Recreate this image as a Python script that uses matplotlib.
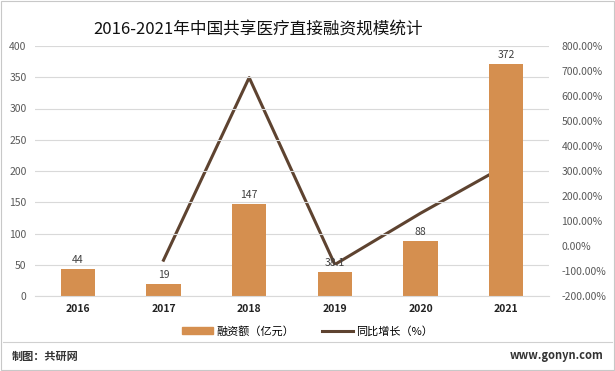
import matplotlib.pyplot as plt
import matplotlib.ticker as mtick
from matplotlib.patches import Rectangle

plt.rcParams['font.family'] = ['Noto Sans CJK SC', 'DejaVu Sans']

# --- data ---
tahun = ['2016', '2017', '2018', '2019', '2020', '2021']
rongzi = [44, 19, 147, 38.1, 88, 372]
label_bar = ['44', '19', '147', '38.1', '88', '372']
# growth (%) starts from 2017
tahun_growth = ['2017', '2018', '2019', '2020', '2021']
growth = [-56.8, 673.7, -74.1, 131.0, 322.7]

warna_bar = '#D58F4F'
warna_line = '#5E4330'

fig = plt.figure(figsize=(6.15, 3.71), dpi=100)
ax = fig.add_axes([35 / 615, 1 - 296 / 371, 514 / 615, 250 / 371])

x = list(range(len(tahun)))
ax.bar(x, rongzi, width=0.4, color=warna_bar, zorder=2)
for xi, v, lb in zip(x, rongzi, label_bar):
    ax.text(xi, v + 6, lb, ha='center', va='bottom', fontsize=7.5, color='#404040', zorder=5)

ax.set_ylim(0, 400)
ax.set_yticks(range(0, 401, 50))
ax.set_xlim(-0.5, 5.5)
ax.set_xticks(x)
ax.set_xticklabels(tahun, fontsize=7.5, fontweight='bold', color='#222222')
ax.grid(axis='y', color='#d9d9d9', linewidth=0.8, zorder=0)
ax.tick_params(axis='y', length=0, labelsize=7.5, labelcolor='#595959', pad=6)
ax.tick_params(axis='x', length=0, pad=6)
for s in ax.spines.values():
    s.set_visible(False)
ax.spines['bottom'].set_visible(True)
ax.spines['bottom'].set_color('#d9d9d9')

ax2 = ax.twinx()
xg = [tahun.index(t) for t in tahun_growth]
ax2.plot(xg, growth, color=warna_line, linewidth=2.2, zorder=3)
ax2.set_ylim(-200, 800)
ax2.set_yticks(range(-200, 801, 100))
ax2.yaxis.set_major_formatter(mtick.FuncFormatter(lambda v, p: f'{v:.2f}%'))
ax2.tick_params(axis='y', length=0, labelsize=7.5, labelcolor='#595959', pad=9)
for s in ax2.spines.values():
    s.set_visible(False)
ax.set_zorder(ax2.get_zorder() + 1)
ax.patch.set_visible(False)

# title
fig.text(0.42, 1 - 30 / 371, '2016-2021年中国共享医疗直接融资规模统计', ha='center', va='center',
         fontsize=12, color='#111111')

# legend
h1 = Rectangle((0, 0), 1, 1, color=warna_bar)
h2, = ax.plot([], [], color=warna_line, linewidth=2.2)
fig.legend([h1, h2], ['融资额（亿元）', '同比增长（%）'], loc='center',
           bbox_to_anchor=(0.5, 1 - 331 / 371), ncol=2, frameon=False, fontsize=8,
           handlelength=2.8, handleheight=0.6, columnspacing=2.5, handletextpad=0.3)

# footer
fig.add_artist(plt.Line2D([0.005, 0.995], [1 - 342 / 371] * 2, color='#d0d0d0', linewidth=0.8))
fig.text(12 / 615, 1 - 356 / 371, '制图：共研网', fontsize=8, fontweight='bold', color='#333333', va='center')
fig.text(603 / 615, 1 - 356 / 371, 'www.gonyn.com', fontsize=8, fontweight='bold', color='#333333',
         va='center', ha='right')

# outer frame
fig.add_artist(Rectangle((0.002, 0.003), 0.996, 0.994, fill=False, edgecolor='#c8c8c8',
                         linewidth=0.8, transform=fig.transFigure))

plt.savefig('out.png', dpi=100)
